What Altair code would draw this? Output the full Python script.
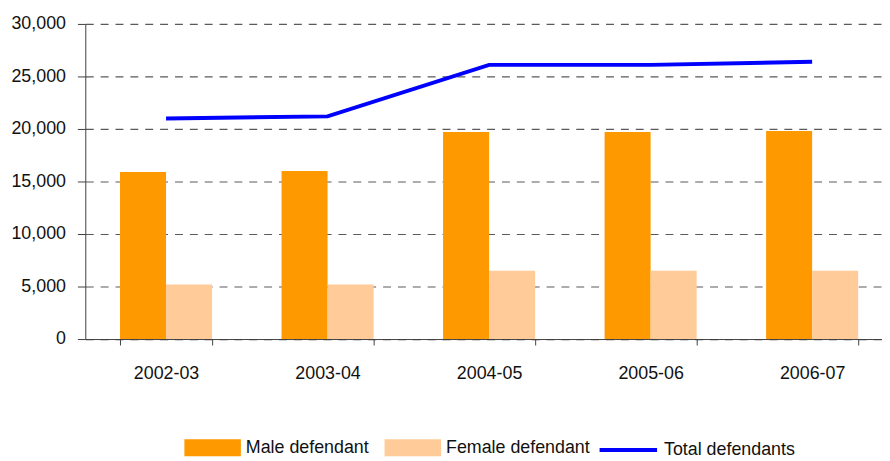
import altair as alt
import pandas as pd

years = ["2002-03", "2003-04", "2004-05", "2005-06", "2006-07"]
male = [15900, 16000, 19700, 19700, 19800]
female = [5200, 5200, 6500, 6500, 6500]
total = [21000, 21200, 26100, 26100, 26400]

series_bar = ["Male defendant", "Female defendant"]
series_line = ["Total defendants"]

bars = pd.DataFrame(
    [{"year": y, "series": series_bar[0], "value": m} for y, m in zip(years, male)]
    + [{"year": y, "series": series_bar[1], "value": f} for y, f in zip(years, female)]
)
line = pd.DataFrame({"year": years, "series": series_line[0], "value": total})

FONT = "Liberation Sans"
TXT = "#111111"

xscale = alt.Scale(domain=years, range=[0, 815], paddingInner=0.43, paddingOuter=0.215)
yscale = alt.Scale(domain=[0, 30000])

bar = alt.Chart(bars).mark_bar().encode(
    x=alt.X("year:N", scale=xscale, sort=years, title=None,
            axis=alt.Axis(labelAngle=0, labelFont=FONT, labelFontSize=18, labelColor=TXT,
                          tickBand="extent", tickSize=6, tickColor="#404040",
                          domainColor="#404040", labelPadding=20, grid=False)),
    xOffset=alt.XOffset("series:N", sort=series_bar, scale=alt.Scale(paddingInner=0, paddingOuter=0)),
    y=alt.Y("value:Q", scale=yscale, title=None,
            axis=alt.Axis(values=[0, 5000, 10000, 15000, 20000, 25000, 30000], format=",.0f",
                          labelFont=FONT, labelFontSize=18, labelColor=TXT,
                          tickSize=8, tickColor="#404040", domainColor="#404040",
                          labelPadding=12, grid=True, gridColor="#5a5a5a",
                          gridDash=[8, 7], gridWidth=1.2)),
    fill=alt.Fill("series:N", sort=series_bar,
                  scale=alt.Scale(domain=series_bar, range=["#FF9900", "#FFCC99"]),
                  legend=alt.Legend(orient="none", legendX=100, legendY=399, direction="horizontal",
                                    title=None, symbolType="M-1,-0.3H1V0.3H-1Z", symbolSize=3249,
                                    symbolStrokeWidth=0, labelFont=FONT, labelFontSize=18,
                                    labelColor=TXT, columnPadding=15, labelOffset=5, padding=0)),
)

ln = alt.Chart(line).mark_line(strokeWidth=4).encode(
    x=alt.X("year:N", scale=xscale, sort=years),
    y=alt.Y("value:Q", scale=yscale),
    stroke=alt.Stroke("series:N", scale=alt.Scale(domain=series_line, range=["#0000FF"]),
                      legend=alt.Legend(orient="none", legendX=517, legendY=399, title=None,
                                        symbolType="stroke", symbolSize=3364, symbolStrokeWidth=4,
                                        labelFont=FONT, labelFontSize=18, labelColor=TXT,
                                        labelOffset=5, padding=0)),
)

chart = alt.layer(bar, ln).resolve_scale(fill="independent", stroke="independent").properties(
    width=802, height=318,
    autosize=alt.AutoSizeParams(type="none"),
    padding={"left": 78, "top": 14, "right": 2, "bottom": 121},
).configure_view(stroke=None).configure_axis(domainWidth=1, tickWidth=1)

chart.save("out.html", embed_options={"renderer": "svg", "actions": False})
